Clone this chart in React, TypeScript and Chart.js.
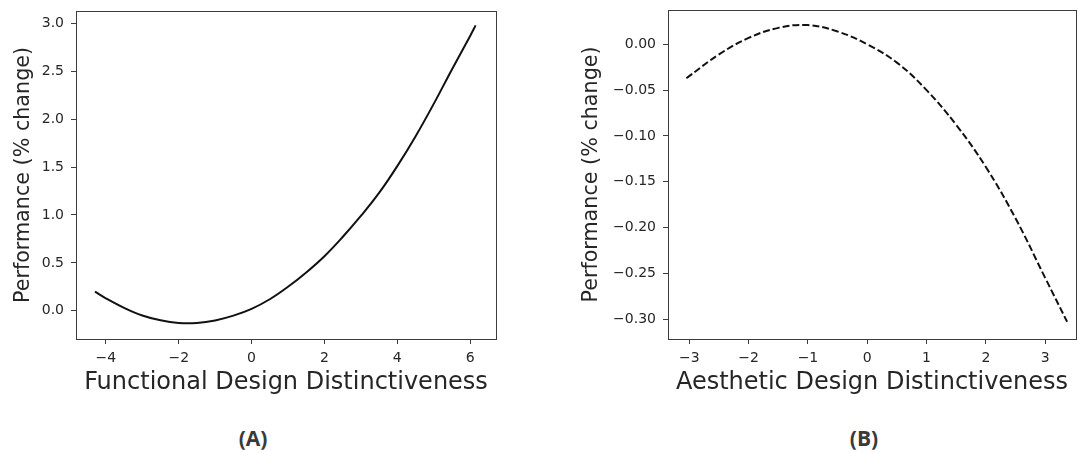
import React, { useEffect, useRef } from "react";
import { Chart, registerables } from "chart.js";

Chart.register(...registerables);

// ---- Data ----
const functionalX = [-4.3, -4.0, -3.5, -3.0, -2.5, -2.0, -1.5, -1.0, -0.5, 0, 0.5, 1.0, 1.5, 2.0, 2.5, 3.0, 3.5, 4.0, 4.5, 5.0, 5.5, 6.0, 6.15];
const functionalY = [0.2, 0.13, 0.03, -0.05, -0.1, -0.127, -0.127, -0.101, -0.051, 0.02, 0.12, 0.25, 0.4, 0.57, 0.77, 0.99, 1.23, 1.51, 1.82, 2.16, 2.52, 2.87, 2.98];

const aestheticX = [-3.05, -2.5, -2.0, -1.5, -1.0, -0.5, 0, 0.5, 1.0, 1.5, 2.0, 2.5, 3.0, 3.37];
const aestheticY = [-0.037, -0.011, 0.007, 0.018, 0.021, 0.014, 0.0, -0.02, -0.05, -0.088, -0.134, -0.19, -0.255, -0.303];

const functionalXTicks = [-4, -2, 0, 2, 4, 6];
const functionalYTicks = [0.0, 0.5, 1.0, 1.5, 2.0, 2.5, 3.0];
const aestheticXTicks = [-3, -2, -1, 0, 1, 2, 3];
const aestheticYTicks = [0.0, -0.05, -0.1, -0.15, -0.2, -0.25, -0.3];

const FONT = "'DejaVu Sans', sans-serif";
const AXIS_COLOR = "#3c3c3c";
const TEXT_COLOR = "#262626";

const fmt = (v: number, d: number) => (v < 0 ? "\u2212" : "") + Math.abs(v).toFixed(d);

const framePlugin = {
  id: "frame",
  afterDraw(chart: any) {
    const { ctx, chartArea } = chart;
    ctx.save();
    ctx.strokeStyle = AXIS_COLOR;
    ctx.lineWidth = 1;
    ctx.strokeRect(
      Math.round(chartArea.left) + 0.5,
      Math.round(chartArea.top) + 0.5,
      Math.round(chartArea.right - chartArea.left),
      Math.round(chartArea.bottom - chartArea.top)
    );
    ctx.restore();
  },
};

type PanelProps = {
  xs: number[];
  ys: number[];
  xTicks: number[];
  yTicks: number[];
  xDec: number;
  yDec: number;
  xMin: number;
  xMax: number;
  yMin: number;
  yMax: number;
  xTitle: string;
  dashed: boolean;
  yAxisWidth: number;
  yTitlePad: number;
  padTop: number;
  padRight: number;
  width: number;
  height: number;
  left: number;
};

function Panel(p: PanelProps) {
  const ref = useRef<HTMLCanvasElement | null>(null);
  useEffect(() => {
    if (!ref.current) return;
    const data = p.xs.map((x, i) => ({ x, y: p.ys[i] }));
    const chart = new Chart(ref.current, {
      type: "line",
      data: {
        datasets: [
          {
            data,
            borderColor: "#111111",
            borderWidth: 2,
            borderDash: p.dashed ? [7, 3] : [],
            pointRadius: 0,
            fill: false,
            tension: 0.4,
          },
        ],
      },
      plugins: [framePlugin],
      options: {
        responsive: false,
        animation: false,
        devicePixelRatio: 1,
        layout: { padding: { top: p.padTop, right: p.padRight, left: 0, bottom: 0 } },
        plugins: { legend: { display: false }, tooltip: { enabled: false } },
        scales: {
          x: {
            type: "linear",
            min: p.xMin,
            max: p.xMax,
            afterBuildTicks: (s: any) => {
              s.ticks = p.xTicks.map((v) => ({ value: v }));
            },
            afterFit: (s: any) => {
              s.height = p.height - 339;
              s.paddingLeft = 0;
              s.paddingRight = 0;
            },
            ticks: {
              callback: (v: any) => fmt(Number(v), p.xDec),
              color: TEXT_COLOR,
              font: { family: FONT, size: 14 },
              padding: 6,
              maxRotation: 0,
              autoSkip: false,
            },
            grid: { drawOnChartArea: false, drawTicks: true, tickLength: 5, color: AXIS_COLOR },
            border: { display: true, color: AXIS_COLOR, width: 1 },
            title: {
              display: true,
              text: p.xTitle,
              color: TEXT_COLOR,
              font: { family: FONT, size: 24, lineHeight: 1.2 },
              padding: { top: 0, bottom: 3 },
            },
          },
          y: {
            type: "linear",
            min: p.yMin,
            max: p.yMax,
            afterBuildTicks: (s: any) => {
              s.ticks = p.yTicks.map((v) => ({ value: v }));
            },
            afterFit: (s: any) => {
              s.width = p.yAxisWidth;
              s.paddingTop = 0;
              s.paddingBottom = 0;
            },
            ticks: {
              callback: (v: any) => fmt(Number(v), p.yDec),
              color: TEXT_COLOR,
              font: { family: FONT, size: 14 },
              padding: 7,
              autoSkip: false,
            },
            grid: { drawOnChartArea: false, drawTicks: true, tickLength: 5, color: AXIS_COLOR },
            border: { display: true, color: AXIS_COLOR, width: 1 },
            title: {
              display: true,
              text: "Performance (% change)",
              color: TEXT_COLOR,
              font: { family: FONT, size: 20.7, lineHeight: 1.2 },
              padding: { top: p.yTitlePad, bottom: 0 },
            },
          },
        },
      },
    } as any);
    return () => chart.destroy();
  }, []);
  return (
    <canvas
      ref={ref}
      width={p.width}
      height={p.height}
      style={{ position: "absolute", left: p.left, top: 0, width: p.width, height: p.height }}
    />
  );
}

const labelStyle: React.CSSProperties = {
  position: "absolute",
  top: 423,
  width: 80,
  textAlign: "center",
  fontFamily: "'Open Sans', sans-serif",
  fontWeight: 700,
  fontSize: 21,
  lineHeight: "30px",
  color: "#3a3a3a",
};

export default function App() {
  return (
    <div style={{ position: "absolute", left: 0, top: 0, width: 1078, height: 452, background: "#ffffff", overflow: "hidden" }}>
      <Panel
        xs={functionalX}
        ys={functionalY}
        xTicks={functionalXTicks}
        yTicks={functionalYTicks}
        xDec={0}
        yDec={1}
        xMin={-4.82}
        xMax={6.71}
        yMin={-0.295}
        yMax={3.13}
        xTitle="Functional Design Distinctiveness"
        dashed={false}
        yAxisWidth={76}
        yTitlePad={11}
        padTop={11}
        padRight={43}
        width={539}
        height={400}
        left={0}
      />
      <Panel
        xs={aestheticX}
        ys={aestheticY}
        xTicks={aestheticXTicks}
        yTicks={aestheticYTicks}
        xDec={0}
        yDec={2}
        xMin={-3.36}
        xMax={3.52}
        yMin={-0.3218}
        yMax={0.0375}
        xTitle="Aesthetic Design Distinctiveness"
        dashed={true}
        yAxisWidth={129}
        yTitlePad={40}
        padTop={10}
        padRight={2}
        width={539}
        height={400}
        left={539}
      />
      <div style={{ ...labelStyle, left: 213 }}>(A)</div>
      <div style={{ ...labelStyle, left: 824 }}>(B)</div>
    </div>
  );
}
